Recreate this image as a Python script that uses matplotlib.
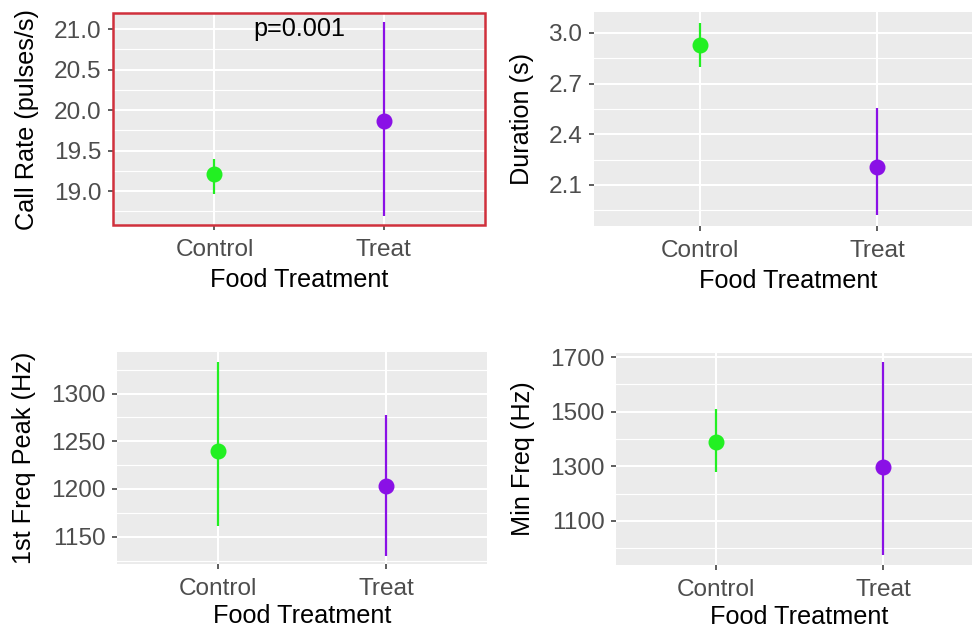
import matplotlib
matplotlib.use("Agg")
import matplotlib.pyplot as plt
from matplotlib.patches import Rectangle
import numpy as np

plt.rcParams["font.family"] = ["Liberation Sans", "DejaVu Sans"]

groups = ["Control", "Treat"]
colors = ["#22F022", "#8A10E6"]

call_rate_mean = [19.21, 19.86]
call_rate_low = [18.96, 18.69]
call_rate_high = [19.40, 21.09]

duration_mean = [2.93, 2.206]
duration_low = [2.80, 1.92]
duration_high = [3.06, 2.556]

peak_mean = [1240, 1203]
peak_low = [1161, 1130]
peak_high = [1333, 1277]

minfreq_mean = [1389, 1297]
minfreq_low = [1279, 975]
minfreq_high = [1508, 1682]

W, H = 972, 630
fig = plt.figure(figsize=(W / 100, H / 100), dpi=100)

TICK_FS = 17.6
TITLE_FS = 18.2


def box(x0, x1, y0, y1):
    return [x0 / W, 1 - y1 / H, (x1 - x0) / W, (y1 - y0) / H]


def panel(rect, mean, low, high, ylabel, ylim, majors, minors, fmt, xpad=5):
    ax = fig.add_axes(rect)
    ax.set_facecolor("#EBEBEB")
    ax.set_xlim(0.4, 2.6)
    ax.set_ylim(*ylim)
    for v in minors:
        ax.axhline(v, color="white", lw=0.8, zorder=0.5)
    for v in majors:
        ax.axhline(v, color="white", lw=1.5, zorder=0.6)
    for x in (1, 2):
        ax.axvline(x, color="white", lw=1.5, zorder=0.6)
    xs = np.arange(1, len(groups) + 1)
    for x, m, lo, hi, c in zip(xs, mean, low, high, colors):
        ax.plot([x, x], [lo, hi], color=c, lw=1.6, solid_capstyle="butt", zorder=2)
        ax.plot([x], [m], "o", color=c, ms=10.5, mec=c, zorder=3)
    ax.set_xticks(xs)
    ax.set_xticklabels(groups)
    ax.set_yticks(majors)
    ax.set_yticklabels([fmt.format(v) for v in majors])
    ax.tick_params(axis="both", which="major", length=3.8, width=1.1,
                   color="#333333", labelcolor="#4D4D4D", labelsize=TICK_FS)
    ax.tick_params(axis="x", pad=6.5)
    ax.tick_params(axis="y", pad=4.5)
    for s in ax.spines.values():
        s.set_visible(False)
    ax.set_xlabel("Food Treatment", fontsize=TITLE_FS, color="black", labelpad=xpad)
    ax.set_ylabel(ylabel, fontsize=TITLE_FS, color="black", labelpad=10.5)
    return ax


ax1 = panel(box(113, 485, 13, 225), call_rate_mean, call_rate_low, call_rate_high,
            "Call Rate (pulses/s)", (18.58, 21.2),
            [19.0, 19.5, 20.0, 20.5, 21.0], [18.75, 19.25, 19.75, 20.25, 20.75, 21.25],
            "{:.1f}")
ax1.text(1.5, 21.0, "p=0.001", ha="center", va="center", fontsize=TITLE_FS, color="black")
ax1.add_patch(Rectangle((0, 0), 1, 1, transform=ax1.transAxes, fill=False,
                        edgecolor="#D0303C", lw=1.8, clip_on=False, zorder=5))

panel(box(594, 983, 12, 226), duration_mean, duration_low, duration_high,
      "Duration (s)", (1.857, 3.124),
      [2.1, 2.4, 2.7, 3.0], [1.95, 2.25, 2.55, 2.85],
      "{:.1f}")

panel(box(117, 487, 352, 564), peak_mean, peak_low, peak_high,
      "1st Freq Peak (Hz)", (1121.4, 1343.5),
      [1150, 1200, 1250, 1300], [1125, 1175, 1225, 1275, 1325],
      "{:d}", xpad=2.5)

panel(box(616, 983, 353, 565), minfreq_mean, minfreq_low, minfreq_high,
      "Min Freq (Hz)", (938, 1715),
      [1100, 1300, 1500, 1700], [1000, 1200, 1400, 1600],
      "{:d}", xpad=2.5)

fig.savefig("out.png", dpi=100)
